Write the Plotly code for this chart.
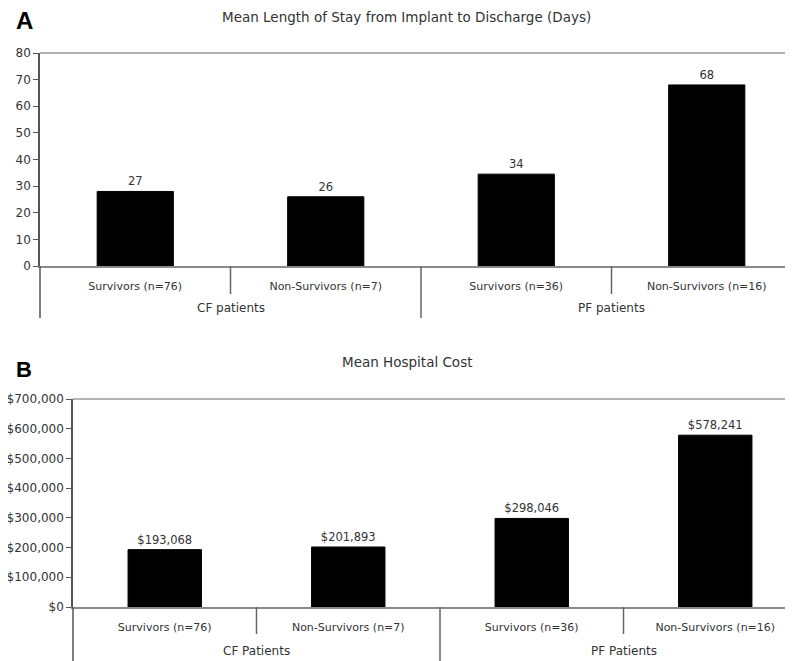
import plotly.graph_objects as go

# ---- data ----
categories_a = ["Survivors (n=76)", "Non-Survivors (n=7)", "Survivors (n=36)", "Non-Survivors (n=16)"]
groups_a = ["CF patients", "PF patients"]
stay_days = [27, 26, 34, 68]
stay_bar_heights = [28, 26, 34.5, 68]  # visual heights of bars (labels are rounded values)
stay_ticks = [0, 10, 20, 30, 40, 50, 60, 70, 80]

categories_b = ["Survivors (n=76)", "Non-Survivors (n=7)", "Survivors (n=36)", "Non-Survivors (n=16)"]
groups_b = ["CF Patients", "PF Patients"]
cost_usd = [193068, 201893, 298046, 578241]
cost_ticks = [0, 100000, 200000, 300000, 400000, 500000, 600000, 700000]

title_a = "Mean Length of Stay from Implant to Discharge (Days)"
title_b = "Mean Hospital Cost"

OFF = 8  # page body margin compensation
W, H = 793, 661
FONT = "DejaVu Sans, Verdana, sans-serif"
BOLD = "Liberation Sans, Arial, sans-serif"
TXT = "#333333"

def px(x):
    return (x - OFF) / W

def py(y):
    return 1 - (y - OFF) / H

fig = go.Figure()

fig.add_trace(go.Bar(
    x=list(range(len(categories_a))), y=stay_bar_heights,
    text=[str(v) for v in stay_days], textposition="outside",
    textfont=dict(size=11.5, color=TXT, family=FONT), cliponaxis=False,
    marker=dict(color="black", line=dict(color="black", width=1)),
    width=0.4, xaxis="x", yaxis="y", showlegend=False,
))
fig.add_trace(go.Bar(
    x=list(range(len(categories_b))), y=cost_usd,
    text=["${:,}".format(v) for v in cost_usd], textposition="outside",
    textfont=dict(size=11.5, color=TXT, family=FONT), cliponaxis=False,
    marker=dict(color="black", line=dict(color="black", width=1)),
    width=0.4, xaxis="x2", yaxis="y2", showlegend=False,
))

# panel geometry (reference pixels)
ax_left_a, top_a, bot_a = 40, 53, 266
ax_left_b, top_b, bot_b = 73, 399, 607
catw_a = 190.5
catw_b = 183.5
right_edge = OFF + W

xr_a = [-0.5, -0.5 + (right_edge - ax_left_a) / catw_a]
xr_b = [-0.5, -0.5 + (right_edge - ax_left_b) / catw_b]

xtick_font = dict(size=11, color=TXT, family=FONT)
ytick_font = dict(size=12, color=TXT, family=FONT)

fig.update_layout(
    width=W, height=H, margin=dict(l=0, r=0, t=0, b=0),
    paper_bgcolor="white", plot_bgcolor="white",
    font=dict(family=FONT, color=TXT),
    xaxis=dict(domain=[px(ax_left_a), 1], range=xr_a, tickvals=list(range(4)), ticktext=categories_a,
               showline=True, linecolor="#8a8a8a", linewidth=1.5, ticks="", ticklabelstandoff=9,
               anchor="y", showgrid=False, zeroline=False, tickfont=xtick_font, automargin=False),
    yaxis=dict(domain=[py(bot_a), py(top_a)], range=[0, 80], tickvals=stay_ticks,
               showline=True, linecolor="#555", linewidth=1.5, ticks="outside", ticklen=5,
               tickcolor="#555", anchor="x", showgrid=False, zeroline=False, tickfont=ytick_font,
               automargin=False),
    xaxis2=dict(domain=[px(ax_left_b), 1], range=xr_b, tickvals=list(range(4)), ticktext=categories_b,
                showline=True, linecolor="#8a8a8a", linewidth=1.5, ticks="", ticklabelstandoff=9,
                anchor="y2", showgrid=False, zeroline=False, tickfont=xtick_font, automargin=False),
    yaxis2=dict(domain=[py(bot_b), py(top_b)], range=[0, 700000], tickvals=cost_ticks,
                ticktext=["${:,}".format(t) for t in cost_ticks],
                showline=True, linecolor="#555", linewidth=1.5, ticks="outside", ticklen=5,
                tickcolor="#555", anchor="x2", showgrid=False, zeroline=False, tickfont=ytick_font,
                automargin=False),
)

shapes = []
def panel_shapes(xa, ya, hpx, inner_px, outer_px):
    shapes.append(dict(type="line", xref=xa + " domain", yref=ya + " domain", x0=0, x1=1, y0=1, y1=1,
                       line=dict(color="#9a9a9a", width=1.5)))
    shapes.append(dict(type="line", xref=xa + " domain", yref=ya + " domain", x0=0, x1=0, y0=0,
                       y1=-outer_px / hpx, line=dict(color="#555", width=1.5)))
    for xv in (0.5, 2.5):
        shapes.append(dict(type="line", xref=xa, yref=ya + " domain", x0=xv, x1=xv, y0=0,
                           y1=-inner_px / hpx, line=dict(color="#666", width=1.5)))
    shapes.append(dict(type="line", xref=xa, yref=ya + " domain", x0=1.5, x1=1.5, y0=0,
                       y1=-outer_px / hpx, line=dict(color="#666", width=1.5)))

panel_shapes("x", "y", bot_a - top_a, 28, 52)
panel_shapes("x2", "y2", bot_b - top_b, 27, 70)
fig.update_layout(shapes=shapes)

ann = []
gfont = dict(size=12, color=TXT, family=FONT)
for i, g in enumerate(groups_a):
    ann.append(dict(text=g, xref="x", yref="y domain", x=0.5 + 2 * i, y=-(308 - bot_a) / (bot_a - top_a),
                    showarrow=False, font=gfont, yanchor="middle"))
for i, g in enumerate(groups_b):
    ann.append(dict(text=g, xref="x2", yref="y2 domain", x=0.5 + 2 * i, y=-(651 - bot_b) / (bot_b - top_b),
                    showarrow=False, font=gfont, yanchor="middle"))
tfont = dict(size=13.5, color=TXT, family=FONT)
ann.append(dict(text=title_a, xref="paper", yref="paper", x=px(406), y=py(17), showarrow=False,
                font=tfont, xanchor="center", yanchor="middle"))
ann.append(dict(text=title_b, xref="paper", yref="paper", x=px(407), y=py(362), showarrow=False,
                font=tfont, xanchor="center", yanchor="middle"))
ann.append(dict(text="<b>A</b>", xref="paper", yref="paper", x=px(24.5), y=py(20.5), showarrow=False,
                font=dict(size=24, color="black", family=BOLD), xanchor="center", yanchor="middle"))
ann.append(dict(text="<b>B</b>", xref="paper", yref="paper", x=px(24), y=py(369.5), showarrow=False,
                font=dict(size=22, color="black", family=BOLD), xanchor="center", yanchor="middle"))
fig.update_layout(annotations=ann)

fig.write_html("out.html")
